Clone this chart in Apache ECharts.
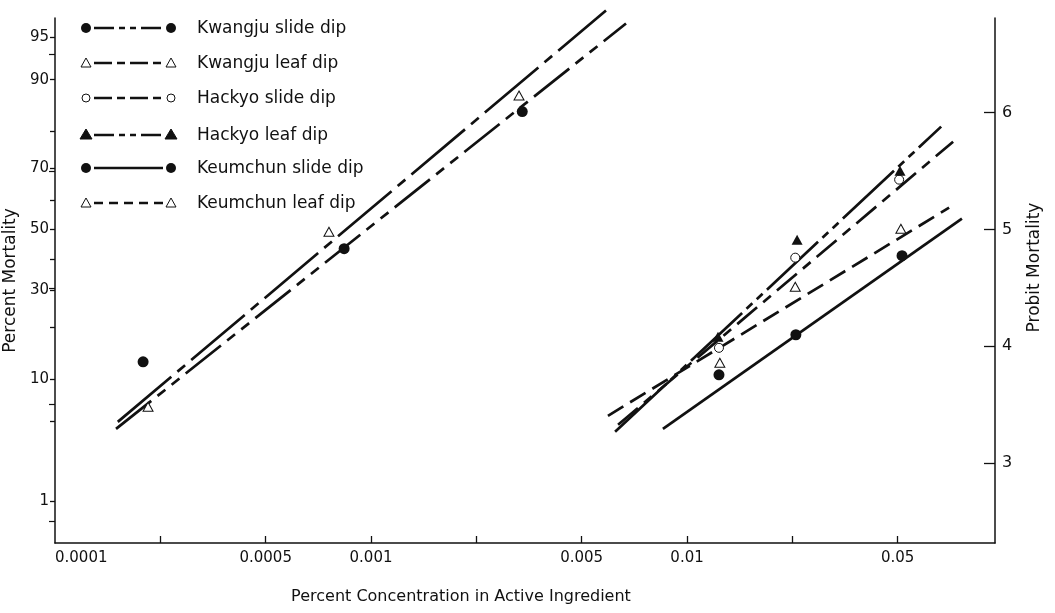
<!DOCTYPE html>
<html><head><meta charset="utf-8">
<script src="https://cdn.jsdelivr.net/npm/echarts@6/dist/echarts.min.js"></script>
<style>html,body{margin:0;padding:0;background:#fff}#c{width:1055px;height:613px}</style>
</head><body><div id="c"></div>
<script>
// ---------- data ----------
const seriesNames = ['Kwangju slide dip','Kwangju leaf dip','Hackyo slide dip','Hackyo leaf dip','Keumchun slide dip','Keumchun leaf dip'];

// observed points: [concentration %, probit]
const kwangjuSlidePts  = [[0.000190, 3.866], [0.000822, 4.835], [0.00301, 6.009]];
const kwangjuLeafPts   = [[0.000197, 3.481], [0.000736, 4.980], [0.00294, 6.146]];
const hackyoSlidePts   = [[0.01262, 3.986], [0.0220, 4.758], [0.0469, 5.426]];
const hackyoLeafPts    = [[0.01253, 4.081], [0.0223, 4.912], [0.0472, 5.503]];
const keumchunSlidePts = [[0.01262, 3.755], [0.0221, 4.098], [0.0479, 4.775]];
const keumchunLeafPts  = [[0.0127, 3.858], [0.0220, 4.509], [0.0475, 5.006]];

// fitted probit lines: end points [concentration %, probit]
const kwangjuSlideLine  = [[0.000156, 3.292], [0.00641, 6.763]];
const kwangjuLeafLine   = [[0.000158, 3.352], [0.00554, 6.874]];
const hackyoSlideLine   = [[0.00605, 3.327], [0.0695, 5.751]];
const hackyoLeafLine    = [[0.00592, 3.267], [0.0637, 5.880]];
const keumchunSlideLine = [[0.00839, 3.292], [0.0741, 5.092]];
const keumchunLeafLine  = [[0.00562, 3.404], [0.0675, 5.186]];

// axis ticks
const xTickThirds  = [1, 2, 3, 4, 5, 6, 7, 8];          // paper grid: thirds of a decade above 0.0001
const xLabelThirds = [0, 2, 3, 5, 6, 8];
const xLabels      = ['0.0001', '0.0005', '0.001', '0.005', '0.01', '0.05'];
const percentTicks  = [1, 5, 10, 20, 30, 40, 50, 60, 70, 80, 90, 95];
const percentLabels = [1, 10, 30, 50, 70, 90, 95];
const probitLabels  = [3, 4, 5, 6];
const probitMinorTicks = [2.5, 3.5, 4.5, 5.5, 6.5];

// ---------- helpers ----------
function probit(pct) {
  const p = pct / 100;
  const q = p < 0.5 ? p : 1 - p;
  const t = Math.sqrt(-2 * Math.log(q));
  const z = t - (2.515517 + 0.802853 * t + 0.010328 * t * t) /
                (1 + 1.432788 * t + 0.189269 * t * t + 0.001308 * t * t * t);
  return 5 + (p < 0.5 ? -z : z);
}
const thirdToValue = k => 1e-4 * Math.pow(10, k / 3);

const FONT = 'DejaVu Sans';
const INK = '#111';
const yMin = 2.315, yMax = 6.81;
const xMin = 1e-4, xMax = 0.0943;

const styles = [
  { symbol: 'circle',   filled: true,  dash: [45, 8, 10, 8, 10, 8], legendDash: [20, 5, 6, 5, 6, 5] },
  { symbol: 'triangle', filled: false, dash: [70, 8, 10, 8],        legendDash: [18, 5, 8, 5] },
  { symbol: 'circle',   filled: false, dash: [26, 8, 10, 8],        legendDash: [18, 5, 8, 5] },
  { symbol: 'triangle', filled: true,  dash: [70, 6, 8, 6, 8, 6],   legendDash: [20, 5, 6, 5, 6, 5] },
  { symbol: 'circle',   filled: true,  dash: 'solid',               legendDash: null },
  { symbol: 'triangle', filled: false, dash: [18, 8],               legendDash: [9, 6] }
];
const allPts = [kwangjuSlidePts, kwangjuLeafPts, hackyoSlidePts, hackyoLeafPts, keumchunSlidePts, keumchunLeafPts];
const allLines = [kwangjuSlideLine, kwangjuLeafLine, hackyoSlideLine, hackyoLeafLine, keumchunSlideLine, keumchunLeafLine];

const series = [];
seriesNames.forEach((name, i) => {
  const st = styles[i];
  series.push({
    name: name + ' (fit)', type: 'line', data: allLines[i], xAxisIndex: 0, yAxisIndex: 0,
    symbol: 'none', clip: false, silent: true, z: 2,
    lineStyle: { color: INK, width: 2.7, type: st.dash, opacity: 1 }
  });
});
seriesNames.forEach((name, i) => {
  const st = styles[i];
  series.push({
    name: name, type: 'scatter', data: allPts[i], xAxisIndex: 0, yAxisIndex: 0, z: 5,
    symbol: st.symbol,
    symbolSize: st.symbol === 'circle' ? (st.filled ? 11 : 9) : (st.filled ? [11, 10] : [10, 9]),
    itemStyle: st.filled ? { color: INK, opacity: 1 } : { color: '#fff', borderColor: INK, borderWidth: 1, opacity: 1 }
  });
});

// legend drawn as graphics (marker - line - marker, label)
const legendY = [28, 63, 98, 135, 168, 203];
const graphics = [];
function marker(st, cx, cy) {
  if (st.symbol === 'circle') {
    return { type: 'circle', z: 100, shape: { cx, cy, r: st.filled ? 5 : 4 },
      style: { fill: st.filled ? INK : '#fff', stroke: INK, lineWidth: st.filled ? 0 : 1 } };
  }
  return { type: 'polygon', z: 100,
    shape: { points: st.filled ? [[cx, cy - 6], [cx + 6, cy + 4], [cx - 6, cy + 4]] : [[cx, cy - 5], [cx + 5, cy + 4], [cx - 5, cy + 4]] },
    style: { fill: st.filled ? INK : '#fff', stroke: INK, lineWidth: 1 } };
}
seriesNames.forEach((name, i) => {
  const st = styles[i], cy = legendY[i];
  graphics.push({ type: 'line', z: 99, shape: { x1: 94, y1: cy, x2: 163, y2: cy },
    style: { stroke: INK, lineWidth: 2.6, lineDash: st.legendDash || null } });
  graphics.push(marker(st, 86, cy));
  graphics.push(marker(st, 171, cy));
  graphics.push({ type: 'text', z: 100, x: 197, y: cy + 1,
    style: { text: name, fill: INK, fontSize: 17, fontFamily: FONT, align: 'left', verticalAlign: 'middle' } });
});

const chart = echarts.init(document.getElementById('c'), null, { renderer: 'canvas' });
chart.setOption({
  animation: false,
  backgroundColor: '#fff',
  grid: [
    { left: 55, right: 60, top: 18, bottom: 70, outerBoundsMode: 'none', containLabel: false },
    { left: 55, right: 60, top: 18, bottom: 70, outerBoundsMode: 'none', containLabel: false }
  ],
  xAxis: [{
    type: 'log', logBase: 10, min: xMin, max: xMax, gridIndex: 0,
    axisLine: { show: true, lineStyle: { color: INK, width: 1.5 } },
    axisTick: { show: true, inside: true, length: 7, customValues: xTickThirds.map(thirdToValue), lineStyle: { color: INK, width: 1.3 } },
    axisLabel: {
      customValues: xLabelThirds.map(thirdToValue), margin: 8, fontSize: 15, fontFamily: FONT, color: INK,
      alignMinLabel: 'left',
      formatter: v => { const k = Math.round((Math.log10(v) + 4) * 3); const i = xLabelThirds.indexOf(k); return i >= 0 ? xLabels[i] : ''; }
    },
    splitLine: { show: false }, minorTick: { show: false },
    name: 'Percent Concentration in Active Ingredient', nameLocation: 'middle', nameGap: 46,
    nameTextStyle: { fontSize: 16, fontFamily: FONT, color: INK, padding: [0, 128, 0, 0] }
  }, {
    type: 'value', gridIndex: 1, min: 0, max: 1, show: false
  }],
  yAxis: [{
    type: 'value', gridIndex: 0, position: 'right', min: yMin, max: yMax,
    axisLine: { show: true, lineStyle: { color: INK, width: 1.5 } },
    axisTick: { show: true, inside: true, length: 11, customValues: probitLabels, lineStyle: { color: INK, width: 1.3 } },
    axisLabel: { customValues: probitLabels, margin: 7, fontSize: 16, fontFamily: FONT, color: INK },
    splitLine: { show: false },
    name: 'Probit Mortality', nameLocation: 'middle', nameRotate: 90, nameGap: 31,
    nameTextStyle: { fontSize: 17, fontFamily: FONT, color: INK, padding: [0, 0, 0, 26] }
  }, {
    type: 'value', gridIndex: 0, position: 'left', min: yMin, max: yMax,
    axisLine: { show: true, lineStyle: { color: INK, width: 1.5 } },
    axisTick: { show: true, inside: false, length: 5, customValues: percentTicks.map(probit), lineStyle: { color: INK, width: 1.3 } },
    axisLabel: {
      customValues: percentLabels.map(probit), margin: 6, fontSize: 15, fontFamily: FONT, color: INK,
      formatter: v => { const p = percentLabels.find(q => Math.abs(probit(q) - v) < 1e-6); return p === undefined ? '' : String(p); }
    },
    splitLine: { show: false },
    name: 'Percent Mortality', nameLocation: 'middle', nameRotate: 90, nameGap: 30,
    nameTextStyle: { fontSize: 17, fontFamily: FONT, color: INK }
  }, {
    type: 'value', gridIndex: 1, position: 'right', min: yMin, max: yMax,
    axisLine: { show: false },
    axisTick: { show: true, inside: true, length: 6, customValues: probitMinorTicks, lineStyle: { color: INK, width: 1.2 } },
    axisLabel: { show: false }, splitLine: { show: false }
  }],
  graphic: graphics,
  series: series
});
</script></body></html>
